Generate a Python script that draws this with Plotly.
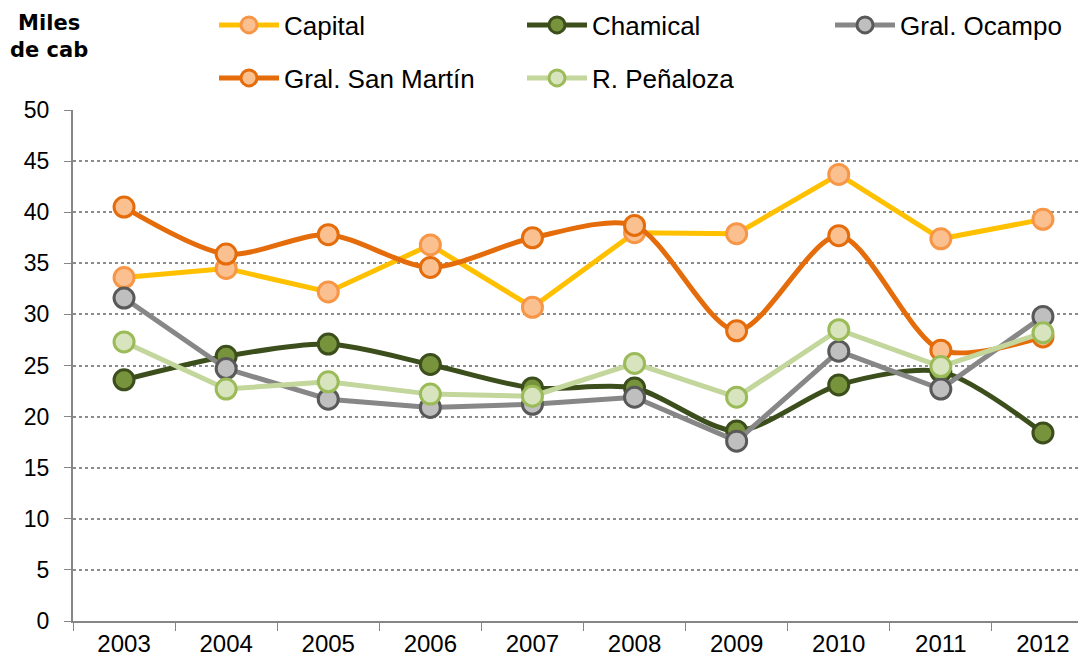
import plotly.graph_objects as go

years = ["2003", "2004", "2005", "2006", "2007", "2008", "2009", "2010", "2011", "2012"]
capital = [33.6, 34.5, 32.2, 36.8, 30.7, 38.0, 37.9, 43.7, 37.4, 39.3]
chamical = [23.6, 25.9, 27.1, 25.1, 22.8, 22.8, 18.6, 23.1, 24.4, 18.4]
gral_ocampo = [31.6, 24.7, 21.7, 20.9, 21.2, 21.9, 17.6, 26.4, 22.7, 29.8]
gral_san_martin = [40.5, 35.9, 37.8, 34.6, 37.5, 38.7, 28.4, 37.7, 26.5, 27.8]
r_penaloza = [27.3, 22.7, 23.4, 22.2, 22.0, 25.2, 21.9, 28.5, 24.9, 28.2]

FONT = "Liberation Sans, Arial, sans-serif"

series = [
    ("Capital", capital, "#FFC000", "#FAC090", "#F79646", "linear", "legend"),
    ("Chamical", chamical, "#3B4E1B", "#77933C", "#3B4E1B", "spline", "legend"),
    ("Gral. Ocampo", gral_ocampo, "#878787", "#BFBFBF", "#595959", "linear", "legend"),
    ("Gral. San Martín", gral_san_martin, "#E46C0A", "#FAC090", "#E46C0A", "spline", "legend2"),
    ("R. Peñaloza", r_penaloza, "#C3D69B", "#D7E4BD", "#9BBB59", "linear", "legend2"),
]

fig = go.Figure()
for name, vals, lc, mf, mb, shape, lg in series:
    fig.add_trace(go.Scatter(
        x=years, y=vals, name=name, mode="lines+markers",
        line=dict(color=lc, width=5, shape=shape, smoothing=0.8),
        marker=dict(size=20, color=mf, line=dict(color=mb, width=3)),
        legend=lg,
    ))

fig.update_layout(
    width=1086, height=666,
    margin=dict(l=65, r=0, t=102, b=53, autoexpand=False),
    plot_bgcolor="white", paper_bgcolor="white",
    font=dict(family=FONT, size=22, color="black"),
    showlegend=True,
    legend=dict(orientation="h", xref="container", yref="container",
                x=0.1897, y=0.9745, xanchor="left", yanchor="middle",
                entrywidth=233, itemwidth=60, font=dict(size=26),
                bgcolor="rgba(0,0,0,0)"),
    legend2=dict(orientation="h", xref="container", yref="container",
                 x=0.1897, y=0.8949, xanchor="left", yanchor="middle",
                 entrywidth=233, itemwidth=60, font=dict(size=26),
                 bgcolor="rgba(0,0,0,0)"),
    xaxis=dict(type="category", range=[-0.5, 9.5], tickson="boundaries",
               ticks="outside", ticklen=8, tickcolor="#868686",
               showline=True, linecolor="#868686", linewidth=2,
               showgrid=False, tickfont=dict(size=24), automargin=False),
    yaxis=dict(range=[0, 50], dtick=5, ticks="outside", ticklen=7,
               tickcolor="#868686", showline=True, linecolor="#868686",
               linewidth=2, showgrid=True, gridcolor="#8C8C8C",
               griddash="dot", gridwidth=1.5, zeroline=False,
               ticklabelstandoff=10, tickfont=dict(size=23), automargin=False),
    annotations=[dict(text="<b>Miles<br>de cab</b>", xref="paper", yref="paper",
                      x=-0.0235, y=1.0, yshift=101, xanchor="center", yanchor="top",
                      showarrow=False, font=dict(size=21, family="DejaVu Sans"),
                      align="center")],
)

fig.write_html("out.html")
